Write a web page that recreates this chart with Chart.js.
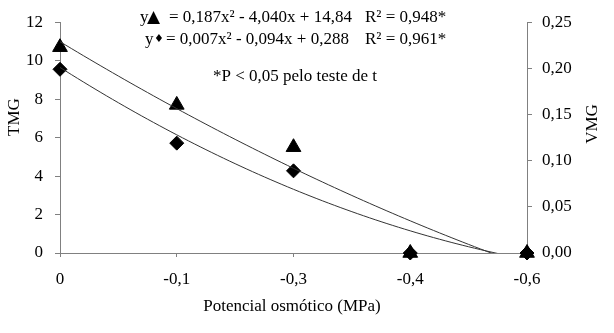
<!DOCTYPE html>
<html>
<head>
<meta charset="utf-8">
<script src="https://cdn.jsdelivr.net/npm/chart.js@4"></script>
<style>
  body { margin: 0; background: #fff; }
  #wrap { width: 614px; height: 333px; }
</style>
</head>
<body>
<div id="wrap"><canvas id="tmgChart"></canvas></div>
<script>
// ---- data ----
const xLabels = ['0', '-0,1', '-0,3', '-0,4', '-0,6'];
const xIndex = [1, 2, 3, 4, 5];
const tmgValues = [10.7, 7.7, 5.5, 0, 0];        // triangles, left axis
const vmgValues = [0.199, 0.119, 0.089, 0, 0];   // diamonds, right axis
// trendline coefficients as printed on the chart (a, b, c)
const tmgFit = [0.187, -4.040, 14.84];
const vmgFit = [0.007, -0.094, 0.288];

const serif = '"Liberation Serif", "Times New Roman", serif';

function fitCurve(coef) {
  const pts = [];
  for (let i = 0; i <= 80; i++) {
    const x = 1 + i * 0.05;
    pts.push({ x: x, y: coef[0] * x * x + coef[1] * x + coef[2] });
  }
  return pts;
}

const toPoints = (vals) => vals.map((v, i) => ({ x: xIndex[i], y: v }));

// equation text and axis titles
const textPlugin = {
  id: 'textPlugin',
  afterDraw(chart) {
    const ctx = chart.ctx;
    ctx.save();
    ctx.fillStyle = '#000';
    ctx.textBaseline = 'alphabetic';
    ctx.textAlign = 'left';

    // line 1
    ctx.font = '17px ' + serif;
    ctx.fillText('y', 140, 22);
    ctx.font = '17px "DejaVu Sans", sans-serif';
    ctx.fillText('\u25B2', 147, 22);
    ctx.font = '17px ' + serif;
    ctx.fillText('= 0,187x\u00B2 - 4,040x + 14,84', 169, 22);
    ctx.fillText('R\u00B2 = 0,948*', 365, 22);

    // line 2
    ctx.fillText('y', 145, 44);
    ctx.font = '11px "DejaVu Sans", sans-serif';
    ctx.fillText('\u2666', 154, 42);
    ctx.font = '17px ' + serif;
    ctx.fillText('= 0,007x\u00B2 - 0,094x + 0,288', 166, 44);
    ctx.fillText('R\u00B2 = 0,961*', 365, 44);

    ctx.textBaseline = 'middle';
    ctx.fillText('*P < 0,05 pelo teste de t', 213, 77);

    ctx.textAlign = 'center';
    ctx.fillText('Potencial osm\u00F3tico (MPa)', 292, 307);

    ctx.save();
    ctx.translate(15, 117);
    ctx.rotate(-Math.PI / 2);
    ctx.fillText('TMG', 0, 0);
    ctx.restore();

    ctx.save();
    ctx.translate(593, 124);
    ctx.rotate(-Math.PI / 2);
    ctx.fillText('VMG', 0, 0);
    ctx.restore();
    ctx.restore();
  }
};

const axisGrid = {
  drawOnChartArea: false,
  drawTicks: true,
  tickLength: 5,
  color: '#808080'
};

new Chart(document.getElementById('tmgChart'), {
  type: 'scatter',
  data: {
    datasets: [
      {
        label: 'TMG fit',
        type: 'line',
        data: fitCurve(tmgFit),
        yAxisID: 'y',
        borderColor: '#333',
        borderWidth: 1,
        pointRadius: 0,
        fill: false
      },
      {
        label: 'VMG fit',
        type: 'line',
        data: fitCurve(vmgFit),
        yAxisID: 'y1',
        borderColor: '#333',
        borderWidth: 1,
        pointRadius: 0,
        fill: false
      },
      {
        label: 'VMG',
        data: toPoints(vmgValues),
        yAxisID: 'y1',
        pointStyle: 'rectRot',
        pointRadius: 7,
        backgroundColor: '#000',
        borderColor: '#000',
        clip: false
      },
      {
        label: 'TMG',
        data: toPoints(tmgValues),
        yAxisID: 'y',
        pointStyle: 'triangle',
        pointRadius: 8.5,
        backgroundColor: '#000',
        borderColor: '#000',
        clip: false
      }
    ]
  },
  options: {
    responsive: true,
    maintainAspectRatio: false,
    animation: false,
    layout: { padding: { top: 18, left: 0, right: 0, bottom: 0 } },
    plugins: {
      legend: { display: false },
      tooltip: { enabled: false }
    },
    scales: {
      x: {
        type: 'linear',
        min: 1,
        max: 5,
        afterFit: (s) => { s.height = 80; },
        ticks: {
          stepSize: 1,
          padding: 12,
          color: '#000',
          font: { family: serif, size: 17 },
          callback: (v) => xLabels[v - 1]
        },
        grid: Object.assign({}, axisGrid, { tickLength: 4 }),
        border: { color: '#808080' }
      },
      y: {
        position: 'left',
        min: 0,
        max: 12,
        afterFit: (s) => { s.width = 60; },
        ticks: {
          stepSize: 2,
          padding: 12,
          color: '#000',
          font: { family: serif, size: 17 }
        },
        grid: axisGrid,
        border: { color: '#808080' }
      },
      y1: {
        position: 'right',
        min: 0,
        max: 0.25,
        afterFit: (s) => { s.width = 87; },
        ticks: {
          stepSize: 0.05,
          padding: 10,
          color: '#000',
          font: { family: serif, size: 17 },
          callback: (v) => v.toFixed(2).replace('.', ',')
        },
        grid: axisGrid,
        border: { color: '#808080' }
      }
    }
  },
  plugins: [textPlugin]
});
</script>
</body>
</html>
